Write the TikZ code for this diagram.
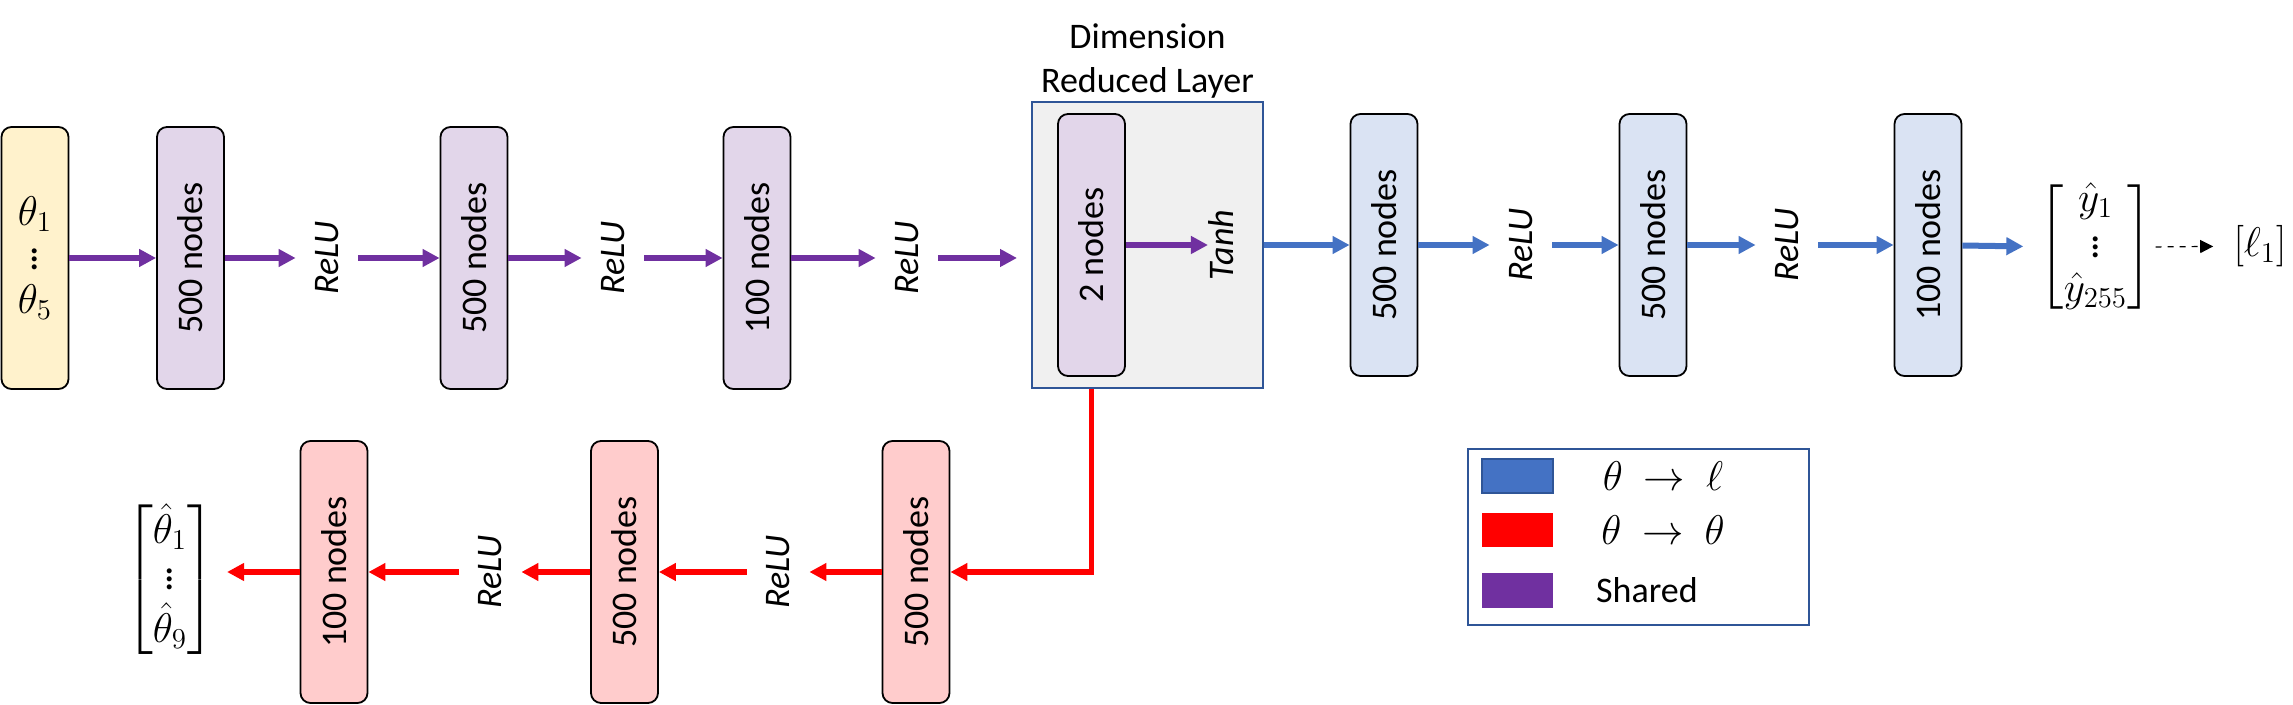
\documentclass[tikz,border=0pt]{standalone}
\usepackage{amsmath}
\usepackage{fontspec}
\setmainfont{Carlito}
\usetikzlibrary{arrows.meta,positioning}
\definecolor{sharedpurple}{HTML}{7030A0}
\definecolor{losblue}{HTML}{4472C4}
\definecolor{thetared}{HTML}{FF0000}
\definecolor{boxyellow}{HTML}{FFF2CC}
\definecolor{boxpurple}{HTML}{E2D6EA}
\definecolor{boxblue}{HTML}{DAE3F3}
\definecolor{boxred}{HTML}{FFCCCC}
\definecolor{dimfill}{HTML}{F0F0F0}
\definecolor{framedark}{HTML}{2F5597}
\newcommand{\netsize}{\fontsize{18}{22}\selectfont}
\newcommand{\mathsize}{\fontsize{20.74}{22}\selectfont}
\tikzset{net/.style={x=0.5pt, y=-0.5pt, font=\netsize},
  layerbox/.style={draw, rounded corners=5pt, line width=0.9pt, rotate=90,
    minimum width=131pt, minimum height=33.5pt, inner sep=0pt},
  inbox/.style={draw, rounded corners=5pt, line width=0.9pt, fill=boxyellow,
    minimum width=33.5pt, minimum height=131pt, inner sep=0pt, align=center, font=\mathsize},
  actlabel/.style={rotate=90, font=\netsize\itshape, minimum height=31pt, inner sep=0pt},
  mathlabel/.style={inner sep=2pt, font=\mathsize},
  netarrow/.style={-{Triangle[length=8.5pt,width=8.5pt]}, line width=3pt},
  sharedarrow/.style={netarrow, sharedpurple},
  lossarrow/.style={netarrow, losblue},
  thetaarrow/.style={netarrow, thetared, line width=2.6pt},
  swatch/.style={minimum width=35.5pt, minimum height=17pt, inner sep=0pt}}

\begin{document}
\begin{tikzpicture}[net]
  \useasboundingbox (0,0) rectangle (2293,705);
  % shared part
  \node[inbox] (in) at (35,258) {$\theta_1$\\$\vdots$\\$\theta_5$};
  \node[layerbox, fill=boxpurple] (enc1) at (190.5,258) {500 nodes};
  \node[actlabel] (relu1) at (327,258) {ReLU};
  \node[layerbox, fill=boxpurple] (enc2) at (474,258) {500 nodes};
  \node[actlabel] (relu2) at (613,258) {ReLU};
  \node[layerbox, fill=boxpurple] (enc3) at (757,258) {100 nodes};
  \node[actlabel] (relu3) at (907,258) {ReLU};
  \node[draw=framedark, line width=1pt, fill=dimfill, minimum width=115.5pt,
    minimum height=143pt] (dim) at (1147.5,245) {};
  \node[above=1pt of dim, align=center, inner sep=0pt] (dimtitle) {Dimension\\Reduced Layer};
  \node[layerbox, fill=boxpurple] (enc4) at (1091.5,245) {2 nodes};
  \node[actlabel, minimum height=0pt] (tanh) at (1221,245) {Tanh};
  \draw[sharedarrow] (in) -- (enc1);
  \draw[sharedarrow] (enc1) -- (relu1);
  \draw[sharedarrow] (relu1) -- (enc2);
  \draw[sharedarrow] (enc2) -- (relu2);
  \draw[sharedarrow] (relu2) -- (enc3);
  \draw[sharedarrow] (enc3) -- (relu3);
  \draw[sharedarrow, shorten >=7pt] (relu3) -- (relu3 -| dim.west);
  \draw[sharedarrow] (enc4) -- (tanh);

  % theta -> ell
  \node[layerbox, fill=boxblue] (los1) at (1384,245) {500 nodes};
  \node[actlabel] (relu4) at (1521,245) {ReLU};
  \node[layerbox, fill=boxblue] (los2) at (1653,245) {500 nodes};
  \node[actlabel] (relu5) at (1787,245) {ReLU};
  \node[layerbox, fill=boxblue] (los3) at (1928,245) {100 nodes};
  \node[mathlabel] (yhat) at (2095.5,247.5)
    {$\begin{bmatrix}\hat{y}_1\\ \vdots\\ \hat{y}_{255}\end{bmatrix}$};
  \node[mathlabel, inner sep=0pt] (ell) at (2260,246) {$[\ell_1]$};
  \draw[lossarrow] (dim.east) -- (los1);
  \draw[lossarrow] (los1) -- (relu4);
  \draw[lossarrow] (relu4) -- (los2);
  \draw[lossarrow] (los2) -- (relu5);
  \draw[lossarrow] (relu5) -- (los3);
  \draw[lossarrow, shorten >=6pt] (los3) -- (yhat);
  \draw[-{Triangle[length=6.5pt,width=6.5pt]}, dashed, line width=0.6pt, shorten >=10pt] (yhat) -- (ell);

  % theta -> theta
  \node[layerbox, fill=boxred] (dec1) at (916,572) {500 nodes};
  \node[actlabel] (relu6) at (778,572) {ReLU};
  \node[layerbox, fill=boxred] (dec2) at (624.5,572) {500 nodes};
  \node[actlabel] (relu7) at (490,572) {ReLU};
  \node[layerbox, fill=boxred] (dec3) at (334,572) {100 nodes};
  \node[mathlabel] (thhat) at (170,579.5)
    {$\begin{bmatrix}\hat{\theta}_1\\ \vdots\\ \hat{\theta}_9\end{bmatrix}$};
  \draw[thetaarrow] (dim.south -| enc4) |- (dec1);
  \draw[thetaarrow] (dec1) -- (relu6);
  \draw[thetaarrow] (relu6) -- (dec2);
  \draw[thetaarrow] (dec2) -- (relu7);
  \draw[thetaarrow] (relu7) -- (dec3);
  \draw[thetaarrow, shorten >=4pt] (dec3) -- (thhat.east |- dec3);

  % legend
  \node[draw=framedark, line width=1pt, minimum width=170.5pt, minimum height=88pt] (legend) at (1638.5,537) {};
  \node[swatch, fill=losblue, draw=framedark, line width=1pt] (keyblue) at (1517.5,476) {};
  \node[swatch, fill=thetared] (keyred) at (1517.5,530.5) {};
  \node[swatch, fill=sharedpurple] (keypurple) at (1517.5,590.5) {};
  \node[mathlabel] (keybluetext) at (1663,476) {$\theta\ \rightarrow\ \ell$};
  \node[mathlabel] (keyredtext) at (1663,530) {$\theta\ \rightarrow\ \theta$};
  \node (keypurpletext) at (1647,590) {Shared};
\end{tikzpicture}
\end{document}
